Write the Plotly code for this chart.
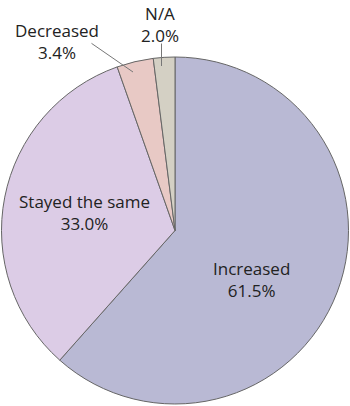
import plotly.graph_objects as go

labels = ["Increased", "Stayed the same", "Decreased", "N/A"]
values = [61.5, 33.0, 3.4, 2.0]
colors = ["#b9b9d4", "#dccce6", "#e8c9c5", "#d4d0c4"]

W, H = 350, 406

fig = go.Figure(go.Pie(
    labels=labels,
    values=values,
    sort=False,
    direction="clockwise",
    rotation=0,
    marker=dict(colors=colors, line=dict(color="#666666", width=1)),
    textinfo="none",
    hoverinfo="label+percent",
    domain=dict(x=[0, 1], y=[(H - 404) / H, (H - 57) / H]),
    showlegend=False,
))

font = dict(family="Open Sans, Noto Sans, sans-serif", size=17, color="#222222")

def px(x, y):
    return x / W, 1 - y / H

ann = []
# centre of each two-line label block, in pixels
label_pos = {0: (251, 279), 1: (84.5, 212.5), 2: (57, 42), 3: (159.5, 24)}
for i, (cx, cy) in label_pos.items():
    x, y = px(cx, cy)
    ann.append(dict(x=x, y=y, xref="paper", yref="paper",
                    text=f"{labels[i]}<br>{values[i]:.1f}%",
                    showarrow=False, font=font, xanchor="center", yanchor="middle",
                    align="center", borderpad=0))

# leader lines: (tip, tail)
leaders = [((133, 72), (91, 43)), ((161.5, 66), (161.5, 43))]
for tip, tail in leaders:
    x, y = px(*tip)
    ann.append(dict(x=x, y=y, xref="paper", yref="paper", text="",
                    showarrow=True, arrowhead=0, arrowwidth=1, arrowcolor="#777777",
                    standoff=0, startstandoff=0,
                    ax=tail[0] - tip[0], ay=tail[1] - tip[1], borderpad=0))

fig.update_layout(
    width=W, height=H,
    margin=dict(l=0, r=0, t=0, b=0),
    paper_bgcolor="white",
    annotations=ann,
)

fig.write_html("out.html")
